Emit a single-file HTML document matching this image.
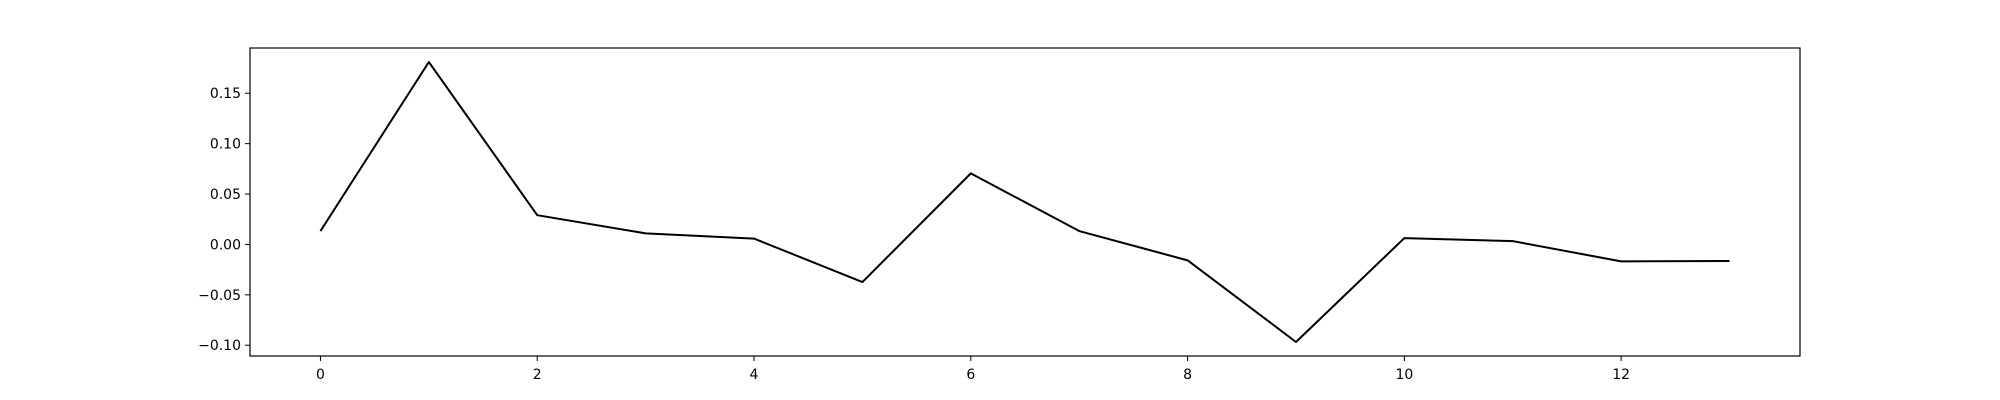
<!DOCTYPE html>
<html><head><meta charset="utf-8"><style>
html,body{margin:0;padding:0;background:#fff;}
svg{display:block;font-family:"DejaVu Sans","Liberation Sans",sans-serif;}
</style></head><body>
<svg id="chart" width="2000" height="400" viewBox="0 0 2000 400">
<rect x="0" y="0" width="2000" height="400" fill="#fff"/>
<g id="plot"></g>
</svg>
<script>
const xValues = [0,1,2,3,4,5,6,7,8,9,10,11,12,13];
const yValues = [0.0133,0.181,0.029,0.011,0.0058,-0.0373,0.0705,0.0133,-0.0158,-0.0968,0.0063,0.0033,-0.0168,-0.0165];
const xTicks = [0,2,4,6,8,10,12];
const yTicks = [-0.10,-0.05,0.00,0.05,0.10,0.15];
const yTickLabels = ["\u22120.10","\u22120.05","0.00","0.05","0.10","0.15"];

const L=250,R=1800,T=48,B=356;
const xmin=Math.min(...xValues),xmax=Math.max(...xValues);
const ymin=Math.min(...yValues),ymax=Math.max(...yValues);
const xm=(xmax-xmin)*0.05, ym=(ymax-ymin)*0.05;
const x0=xmin-xm,x1=xmax+xm,y0=ymin-ym,y1=ymax+ym;
function sx(v){return L+(v-x0)/(x1-x0)*(R-L);}
function sy(v){return B-(v-y0)/(y1-y0)*(B-T);}
const NS="http://www.w3.org/2000/svg";
const g=document.getElementById('plot');
function mk(tag,attrs){const e=document.createElementNS(NS,tag);for(const k in attrs)e.setAttribute(k,attrs[k]);g.appendChild(e);return e;}

const pts=xValues.map((x,i)=>sx(x).toFixed(2)+","+sy(yValues[i]).toFixed(2)).join(" ");
const line=mk('polyline',{points:pts,fill:'none',stroke:'#000','stroke-width':2,'stroke-linejoin':'round'});



xTicks.forEach(t=>{
  const x=sx(t);
  const tk=mk('line',{x1:x,x2:x,y1:B,y2:B+5,stroke:'#000','stroke-width':1});
  
  
  const tx=mk('text',{x:x,y:B+23,'text-anchor':'middle','font-size':14,fill:'#000'});
  tx.textContent=String(t);
  
  
});
yTicks.forEach((t,i)=>{
  const y=sy(t);
  const tk=mk('line',{x1:L-5,x2:L,y1:y,y2:y,stroke:'#000','stroke-width':1});
  
  
  const tx=mk('text',{x:L-9,y:y+5,'text-anchor':'end','font-size':14,fill:'#000'});
  tx.textContent=yTickLabels[i];
  
  
});
const frame=mk('rect',{x:L,y:T,width:R-L,height:B-T,fill:'none',stroke:'#000','stroke-width':1.2});


</script>
</body></html>
